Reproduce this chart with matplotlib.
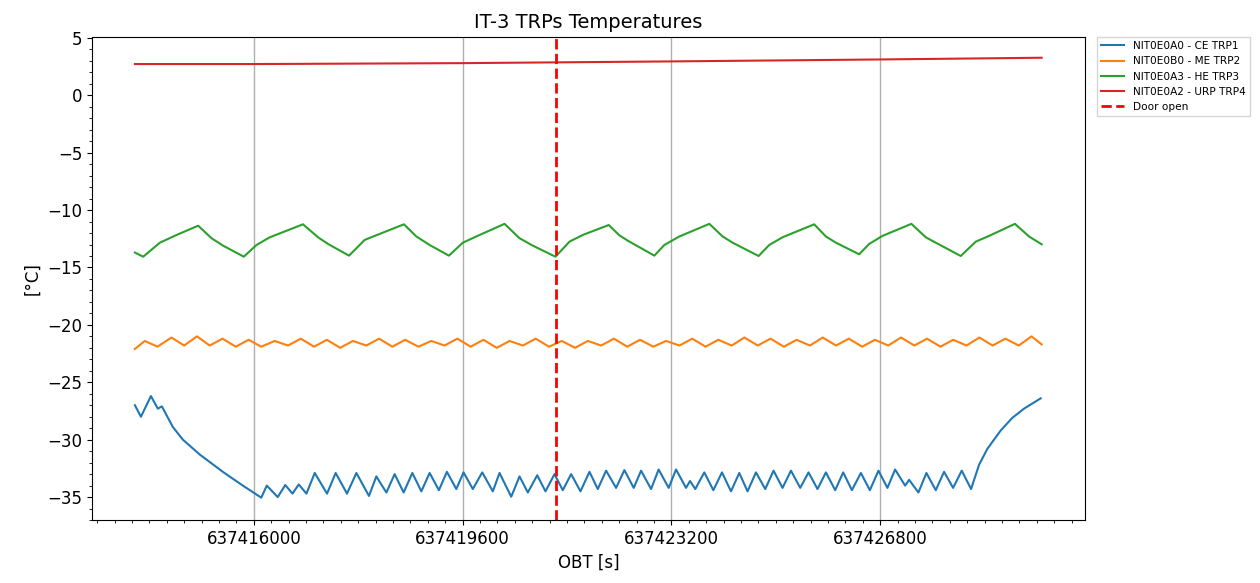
import matplotlib
matplotlib.use('Agg')
import matplotlib.pyplot as plt
from matplotlib.ticker import MultipleLocator

OBT0 = 637416000

# offsets [s] from OBT0 and temperatures [degC]
ce_dt = [-2050, -1946, -1774, -1654, -1585, -1395, -1223, -930, -534, -189, 129,
         224, 413, 543, 667, 775, 908, 1051, 1263, 1412, 1607, 1769, 1986, 2113,
         2286, 2429, 2584, 2734, 2889, 3032, 3192, 3330, 3492, 3617, 3777, 3939,
         4122, 4237, 4439, 4582, 4725, 4887, 5030, 5185, 5328, 5472, 5633, 5788,
         5931, 6075, 6247, 6390, 6551, 6678, 6850, 6981, 7154, 7281, 7453, 7522,
         7613, 7768, 7924, 8073, 8228, 8371, 8514, 8659, 8819, 8962, 9117, 9262,
         9422, 9565, 9720, 9865, 10025, 10163, 10313, 10468, 10623, 10771, 10926,
         11058, 11231, 11300, 11460, 11598, 11759, 11902, 12058, 12207, 12368,
         12505, 12648, 12879, 13079, 13280, 13568]
ce_temp = [-27.0, -28.0, -26.2, -27.3, -27.1, -28.9, -30.0, -31.3, -32.8, -34.0, -35.05,
           -34.0, -35.0, -33.95, -34.7, -33.9, -34.7, -32.9, -34.7, -32.9, -34.7, -32.9, -34.9, -33.2,
           -34.6, -33.0, -34.6, -32.9, -34.5, -32.9, -34.4, -32.8, -34.3, -32.85, -34.3, -32.85,
           -34.5, -32.9, -34.97, -33.2, -34.6, -33.1, -34.5, -33.0, -34.4, -33.0, -34.5, -32.8,
           -34.3, -32.7, -34.2, -32.65, -34.2, -32.7, -34.3, -32.6, -34.2, -32.6, -34.2, -33.6,
           -34.3, -32.85, -34.4, -32.85, -34.5, -32.9, -34.5, -32.85, -34.3, -32.7, -34.2, -32.7,
           -34.2, -32.85, -34.3, -32.85, -34.4, -32.85, -34.4, -32.9, -34.4, -32.7, -34.2,
           -32.6, -34.0, -33.5, -34.6, -32.9, -34.4, -32.8, -34.2, -32.7, -34.3,
           -32.2, -30.8, -29.2, -28.1, -27.3, -26.4]

me_dt = [-2050, -1880, -1660, -1420, -1200, -980, -760, -540, -310, -90, 130, 360,
         590, 810, 1040, 1260, 1490, 1710, 1940, 2160, 2390, 2610, 2840, 3060, 3290,
         3510, 3740, 3960, 4190, 4410, 4640, 4860, 5090, 5310, 5540, 5760, 5990, 6210,
         6440, 6660, 6890, 7110, 7340, 7560, 7790, 8010, 8240, 8460, 8690, 8910, 9140,
         9360, 9590, 9810, 10040, 10260, 10490, 10710, 10940, 11160, 11390, 11610,
         11840, 12060, 12290, 12510, 12740, 12960, 13190, 13410, 13585]
me_temp = [-22.1, -21.4, -21.9, -21.1, -21.8, -21.0, -21.8, -21.2, -21.9, -21.3, -21.9, -21.4,
           -21.8, -21.2, -21.9, -21.3, -22.0, -21.4, -21.8, -21.2, -21.9, -21.3, -21.9, -21.4,
           -21.8, -21.2, -21.9, -21.3, -22.0, -21.4, -21.8, -21.2, -21.9, -21.4, -22.0, -21.4,
           -21.8, -21.2, -21.9, -21.3, -21.9, -21.4, -21.8, -21.2, -21.9, -21.3, -21.8, -21.1,
           -21.8, -21.2, -21.9, -21.3, -21.8, -21.1, -21.8, -21.2, -21.9, -21.3, -21.8, -21.1,
           -21.8, -21.2, -21.9, -21.3, -21.8, -21.1, -21.8, -21.2, -21.8, -21.0, -21.7]

he_dt = [-2050, -1907, -1619, -1332, -959, -729, -529, -172, 47, 276, 849, 1108, 1280,
         1642, 1912, 2084, 2589, 2803, 3032, 3364, 3605, 3836, 4323, 4582, 4811, 5202,
         5443, 5672, 6120, 6304, 6447, 6907, 7079, 7338, 7855, 8084, 8256, 8704, 8888,
         9117, 9663, 9865, 10037, 10438, 10611, 10840, 11339, 11587, 11759, 12190,
         12449, 12678, 13125, 13367, 13585]
he_temp = [-13.7, -14.06, -12.84, -12.17, -11.36, -12.45, -13.1, -14.06, -13.04, -12.37, -11.24,
           -12.37, -12.95, -13.97, -12.6, -12.25, -11.24, -12.3, -13.04, -13.97, -12.84, -12.3,
           -11.2, -12.45, -13.1, -14.06, -12.75, -12.17, -11.3, -12.2, -12.66, -13.97, -13.04,
           -12.3, -11.2, -12.3, -12.84, -14.0, -13.04, -12.37, -11.24, -12.3, -12.84, -13.85,
           -12.95, -12.25, -11.2, -12.37, -12.84, -14.0, -12.75, -12.25, -11.2, -12.3, -12.98]

urp_dt = [-2050, 0, 3600, 7200, 10800, 13585]
urp_temp = [2.72, 2.72, 2.8, 2.95, 3.12, 3.27]

door_dt = 5219

labels = ['NIT0E0A0 - CE TRP1', 'NIT0E0B0 - ME TRP2', 'NIT0E0A3 - HE TRP3', 'NIT0E0A2 - URP TRP4']
series = [(ce_dt, ce_temp), (me_dt, me_temp), (he_dt, he_temp), (urp_dt, urp_temp)]
colors = ['#1f77b4', '#ff7f0e', '#2ca02c', '#d62728']

fig = plt.figure(figsize=(12.6, 5.83), dpi=100)
ax = fig.add_axes([0.073, 0.108, 0.788, 0.829])

for (dt, temp), lab, c in zip(series, labels, colors):
    ax.plot([OBT0 + d for d in dt], temp, color=c, lw=1.5, label=lab)

ax.axvline(OBT0 + door_dt, color='red', ls='--', lw=2, label='Door open')

ax.set_xlim(OBT0 - 2790, OBT0 + 14330)
ax.set_ylim(-37.0, 5.1)
ax.xaxis.set_major_locator(MultipleLocator(3600))
ax.xaxis.set_minor_locator(MultipleLocator(300))
ax.yaxis.set_major_locator(MultipleLocator(5))
ax.yaxis.set_minor_locator(MultipleLocator(1))
ax.ticklabel_format(axis='x', style='plain', useOffset=False)
ax.grid(axis='x', which='major', color='#b0b0b0', lw=1)
ax.tick_params(labelsize=12)

ax.set_title('IT-3 TRPs Temperatures', fontsize=14)
ax.set_xlabel('OBT [s]', fontsize=12)
ax.set_ylabel('[°C]', fontsize=12)
ax.legend(loc='upper left', bbox_to_anchor=(1.012, 1.0), borderaxespad=0,
          fontsize=7.6, fancybox=False, handlelength=2.2)

fig.savefig('out.png', dpi=100)
